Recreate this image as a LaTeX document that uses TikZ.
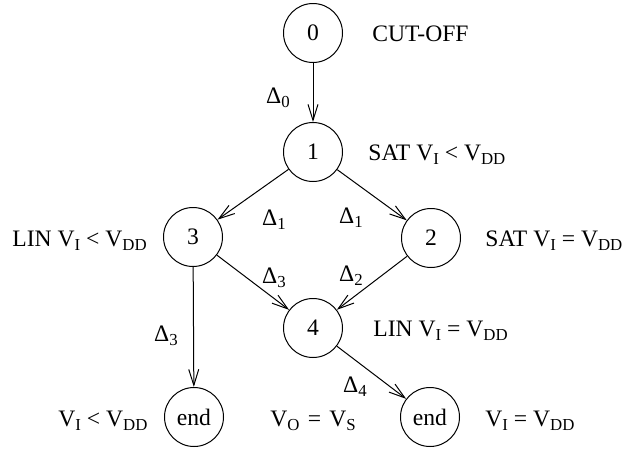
\documentclass[tikz,border=0pt]{standalone}
\usepackage{fontspec}
\setmainfont{Liberation Serif}
\usetikzlibrary{arrows.meta,shapes.geometric}
\newcommand{\lo}[1]{\raisebox{-0.45ex}{\fontsize{8.4}{9}\selectfont #1}}
\tikzset{
  state/.style={circle,draw,line width=0.5pt,minimum size=29.5pt,inner sep=0pt},
  flow/.style={-{Straight Barb[length=8pt,width=5pt]},line width=0.5pt},
  lbl/.style={anchor=base west,inner sep=0pt},
}

\begin{document}
\begin{tikzpicture}[x=0.5pt,y=-0.5pt,
      font=\fontsize{11.8}{14}\selectfont,
      dlt/.style={anchor=base,inner sep=0pt},
    ]
    \useasboundingbox (0,0) rectangle (626,450);

    \node[state] (s0)   at (313,33)  {0};
    \node[state] (s1)   at (313,152) {1};
    \node[state] (s3)   at (193,237) {3};
    \node[state] (s2)   at (431,238) {2};
    \node[state] (s4)   at (313,328) {4};
    \node[state] (endL) at (194,417) {end};
    \node[state] (endR) at (430,417) {end};

    % regions
    \node[lbl] (cutoff) at (372,41)  {CUT-OFF};
    \node[lbl] (sat1)   at (368,160) {SAT V\lo{I} < V\lo{DD}};
    \node[lbl] (lin3)   at (12,246)  {LIN V\lo{I} < V\lo{DD}};
    \node[lbl] (sat2)   at (485,246) {SAT V\lo{I} = V\lo{DD}};
    \node[lbl] (lin4)   at (373,336) {LIN V\lo{I} = V\lo{DD}};
    \node[lbl] (endLt)  at (58,426)  {V\lo{I} < V\lo{DD}};
    \node[lbl] (vout)   at (270,426) {V\lo{O}\hspace{0.35em}=\hspace{0.35em}V\lo{S}};
    \node[lbl] (endRt)  at (485,426) {V\lo{I} = V\lo{DD}};

    % steps
    \node[dlt] (d0)  at (278,103) {Δ\lo{0}};
    \node[dlt] (d1a) at (274,225) {Δ\lo{1}};
    \node[dlt] (d1b) at (351,223) {Δ\lo{1}};
    \node[dlt] (d3a) at (274,283) {Δ\lo{3}};
    \node[dlt] (d2)  at (351,281) {Δ\lo{2}};
    \node[dlt] (d3b) at (166,341) {Δ\lo{3}};
    \node[dlt] (d4)  at (355,392) {Δ\lo{4}};

    \draw[flow] (s0) -- (s1);
    \foreach \t in {s3,s2}
      \draw[flow] (s1) -- (\t);
    \foreach \t in {s3,s2}
      \draw[flow] (\t) -- (s4);
    \draw[flow] (s3) -- (endL);
    \draw[flow] (s4) -- (endR);

  \end{tikzpicture}
\end{document}
